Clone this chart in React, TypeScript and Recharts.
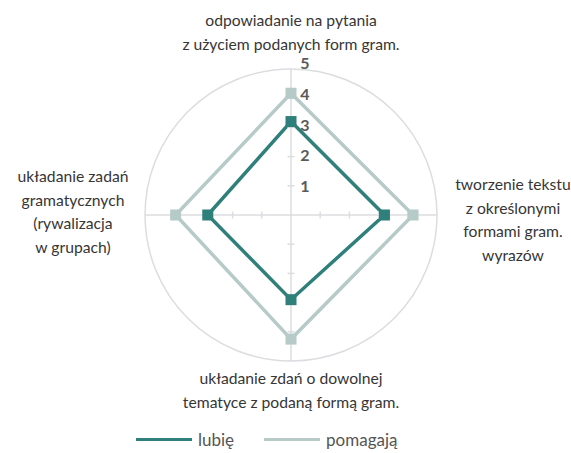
import React from "react";
import { RadarChart, Radar, PolarGrid, PolarAngleAxis, PolarRadiusAxis, Legend } from "recharts";

const categories = [
  "odpowiadanie na pytania\nz użyciem podanych form gram.",
  "tworzenie tekstu\nz określonymi\nformami gram.\nwyrazów",
  "układanie zdań o dowolnej\ntematyce z podaną formą gram.",
  "układanie zadań\ngramatycznych\n(rywalizacja\nw grupach)",
];
const lubie = [3.2, 3.2, 2.9, 2.85];
const pomagaja = [4.17, 4.18, 4.25, 3.95];
const seriesNames = ["lubię", "pomagają"];
const radiusTicks = [0, 1, 2, 3, 4, 5];

const data = categories.map((c, i) => ({ cat: c, lubie: lubie[i], pomagaja: pomagaja[i] }));

const DARK = "#2f7f7a";
const LIGHT = "#b6cac8";
const GRID = "#dcdde0";
const FONT = "Lato, 'Noto Sans', sans-serif";

const CX = 291;
const CY = 215;
const R = 146;

function SquareDot(color: string) {
  return (p: any) => (
    <rect key={`d-${p.index}`} x={p.cx - 5.5} y={p.cy - 5.5} width={11} height={11} fill={color} />
  );
}

function angleTick(p: any) {
  const lines = String(p.payload.value).split("\n");
  const idx = p.index;
  const lh = 23.5;
  let x = p.x;
  let y0 = p.y;
  if (idx === 0) {
    x = CX;
    y0 = 20;
  } else if (idx === 1) {
    x = 513;
    y0 = 184;
  } else if (idx === 2) {
    x = CX;
    y0 = 378;
  } else {
    x = 73;
    y0 = 176;
  }
  return (
    <g key={`at-${idx}`}>
      {lines.map((l, i) => (
        <text
          key={i}
          x={x}
          y={y0 + i * lh}
          textAnchor="middle"
          dominantBaseline="central"
          fontFamily={FONT}
          fontSize={15.7}
          fill="#363636"
        >
          {l}
        </text>
      ))}
    </g>
  );
}

function radiusTick(p: any) {
  const v = Number(p.payload.value);
  if (v === 0) return <g />;
  const d = CY - p.y;
  const label = (
    <text x={p.x + 14} y={p.y - (v - 1) * 1.7} textAnchor="middle" dominantBaseline="central" fontFamily={FONT} fontSize={16} fontWeight={700} fill="#5a5a5a">
      {v}
    </text>
  );
  if (v === 5) return label;
  const s = 3.5;
  return (
    <g>
      <line x1={CX - s} x2={CX + s} y1={CY - d} y2={CY - d} stroke={GRID} strokeWidth={1.5} />
      <line x1={CX - s} x2={CX + s} y1={CY + d} y2={CY + d} stroke={GRID} strokeWidth={1.5} />
      <line x1={CX - d} x2={CX - d} y1={CY - s} y2={CY + s} stroke={GRID} strokeWidth={1.5} />
      <line x1={CX + d} x2={CX + d} y1={CY - s} y2={CY + s} stroke={GRID} strokeWidth={1.5} />
      {label}
    </g>
  );
}

function LegendContent() {
  const colors = [DARK, LIGHT];
  return (
    <div style={{ display: "flex", alignItems: "center", fontFamily: FONT, fontSize: 17, color: "#555" }}>
      {seriesNames.map((n, i) => (
        <div key={n} style={{ display: "flex", alignItems: "center", marginRight: i === 0 ? 30 : 0 }}>
          <div style={{ width: 56, height: 3, background: colors[i], marginRight: 6 }} />
          <span>{n}</span>
        </div>
      ))}
    </div>
  );
}

export default function App() {
  return (
    <div style={{ position: "absolute", left: 0, top: 0, width: 571, height: 453, background: "#fff" }}>
      <RadarChart width={571} height={453} data={data} cx={CX} cy={CY} outerRadius={R} margin={{ top: 0, right: 0, bottom: 0, left: 0 }}>
        <PolarGrid gridType="circle" polarRadius={[R]} stroke={GRID} strokeWidth={1.5} />
        <PolarAngleAxis dataKey="cat" tick={angleTick} tickLine={false} axisLine={false} />
        <PolarRadiusAxis
          angle={90}
          domain={[0, 5]}
          ticks={radiusTicks as any}
          tickCount={6}
          axisLine={false}
          tick={radiusTick}
        />
        <Radar
          name={seriesNames[1]}
          dataKey="pomagaja"
          stroke={LIGHT}
          strokeWidth={3.5}
          fill="none"
          fillOpacity={0}
          dot={SquareDot(LIGHT)}
          isAnimationActive={false}
        />
        <Radar
          name={seriesNames[0]}
          dataKey="lubie"
          stroke={DARK}
          strokeWidth={3.5}
          fill="none"
          fillOpacity={0}
          dot={SquareDot(DARK)}
          isAnimationActive={false}
        />
        <Legend content={LegendContent} wrapperStyle={{ position: "absolute", left: 136, top: 429, width: 300 }} />
      </RadarChart>
    </div>
  );
}
